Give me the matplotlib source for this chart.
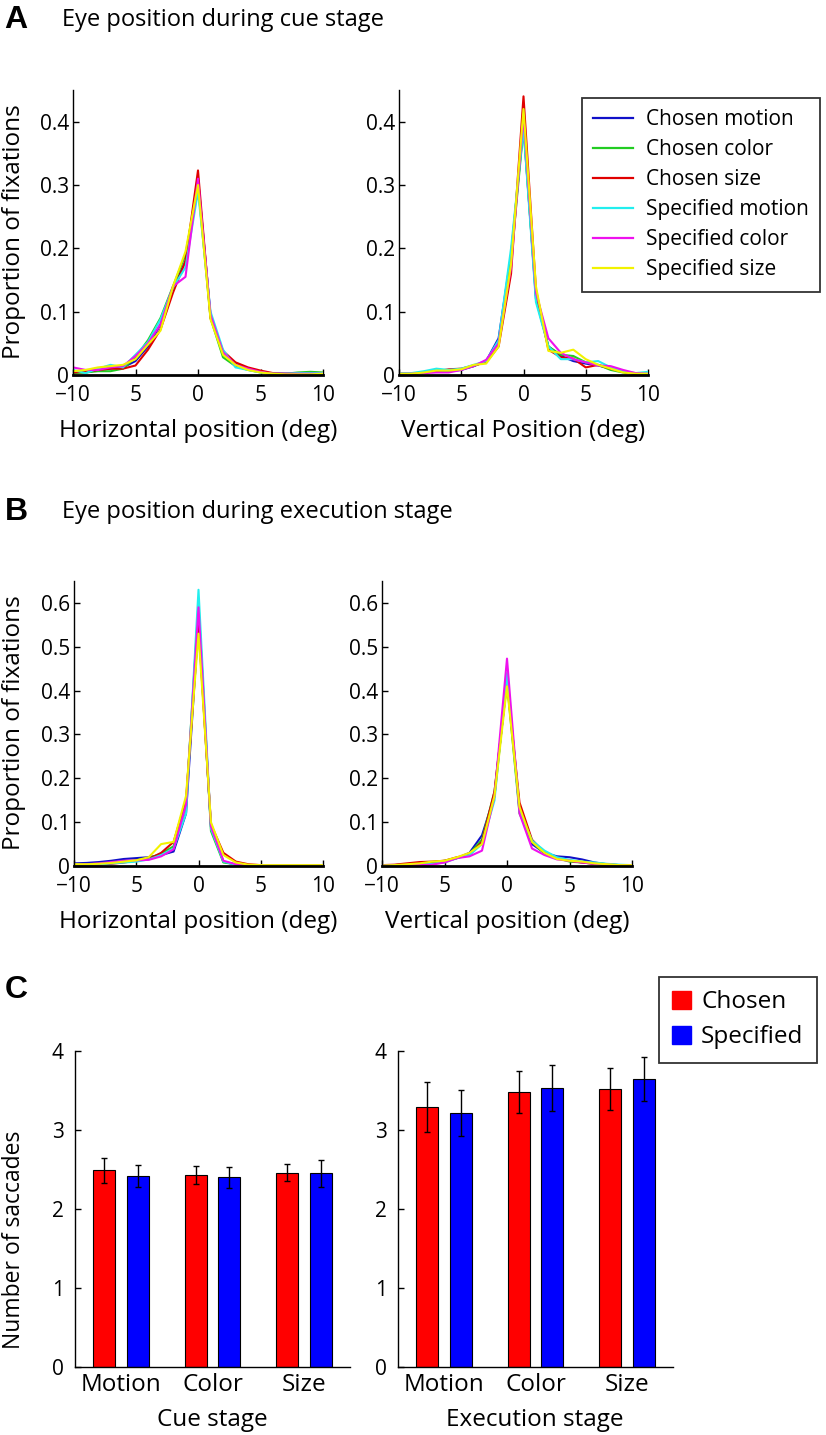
#!/usr/bin/env python3
"""Eye position distributions (cue / execution stage) and saccade counts."""

import matplotlib
matplotlib.use("Agg")
import matplotlib.pyplot as plt
import numpy as np
from matplotlib.patches import Patch
from matplotlib.lines import Line2D

# ---- data -----------------------------------------------------------------
positions = list(range(-10, 11))
xtick_vals = [-10, -5, 0, 5, 10]
xtick_text = ["\u221210", "5", "0", "5", "10"]

series_names = ["Chosen motion", "Chosen color", "Chosen size",
                "Specified motion", "Specified color", "Specified size"]
series_colors = ["#1010c8", "#22cc22", "#e00000", "#22eeee", "#ee11ee", "#f2f200"]

# cue stage, horizontal
cue_h_cm = [0.006, 0.004, 0.008, 0.010, 0.012, 0.022, 0.045, 0.080, 0.135, 0.180, 0.310, 0.095, 0.035, 0.018, 0.010, 0.005, 0.002, 0.002, 0.002, 0.003, 0.003]
cue_h_cc = [0.003, 0.004, 0.006, 0.006, 0.010, 0.028, 0.055, 0.090, 0.140, 0.190, 0.300, 0.090, 0.028, 0.014, 0.008, 0.004, 0.002, 0.002, 0.004, 0.005, 0.004]
cue_h_cs = [0.004, 0.005, 0.008, 0.010, 0.010, 0.015, 0.040, 0.072, 0.130, 0.180, 0.323, 0.090, 0.038, 0.020, 0.012, 0.007, 0.003, 0.002, 0.002, 0.002, 0.002]
cue_h_sm = [0.008, 0.003, 0.010, 0.016, 0.012, 0.032, 0.052, 0.088, 0.138, 0.170, 0.290, 0.100, 0.040, 0.012, 0.008, 0.004, 0.002, 0.002, 0.003, 0.003, 0.003]
cue_h_sc = [0.012, 0.008, 0.008, 0.012, 0.014, 0.030, 0.050, 0.080, 0.140, 0.155, 0.310, 0.095, 0.036, 0.016, 0.010, 0.005, 0.002, 0.002, 0.002, 0.002, 0.002]
cue_h_ss = [0.006, 0.008, 0.012, 0.014, 0.016, 0.025, 0.048, 0.070, 0.140, 0.195, 0.300, 0.088, 0.032, 0.016, 0.008, 0.004, 0.002, 0.001, 0.001, 0.001, 0.002]

# cue stage, vertical
cue_v_cm = [0.003, 0.002, 0.004, 0.006, 0.006, 0.008, 0.014, 0.022, 0.058, 0.190, 0.395, 0.120, 0.045, 0.030, 0.022, 0.018, 0.015, 0.010, 0.005, 0.002, 0.003]
cue_v_cc = [0.002, 0.002, 0.004, 0.007, 0.007, 0.009, 0.014, 0.022, 0.050, 0.180, 0.390, 0.125, 0.045, 0.032, 0.030, 0.020, 0.016, 0.008, 0.004, 0.002, 0.002]
cue_v_cs = [0.003, 0.002, 0.004, 0.006, 0.009, 0.010, 0.015, 0.020, 0.045, 0.160, 0.440, 0.135, 0.040, 0.028, 0.026, 0.012, 0.016, 0.010, 0.005, 0.002, 0.002]
cue_v_sm = [0.003, 0.003, 0.006, 0.010, 0.008, 0.010, 0.016, 0.022, 0.055, 0.200, 0.390, 0.115, 0.045, 0.025, 0.025, 0.020, 0.022, 0.012, 0.006, 0.003, 0.005]
cue_v_sc = [0.002, 0.002, 0.003, 0.004, 0.004, 0.008, 0.014, 0.024, 0.050, 0.170, 0.410, 0.130, 0.058, 0.035, 0.025, 0.020, 0.015, 0.014, 0.008, 0.003, 0.002]
cue_v_ss = [0.002, 0.002, 0.004, 0.007, 0.007, 0.009, 0.016, 0.018, 0.045, 0.175, 0.420, 0.140, 0.038, 0.035, 0.040, 0.025, 0.016, 0.010, 0.004, 0.002, 0.002]

# execution stage, horizontal
exe_h_cm = [0.006, 0.007, 0.009, 0.012, 0.016, 0.018, 0.020, 0.025, 0.033, 0.120, 0.560, 0.090, 0.010, 0.003, 0.002, 0.001, 0.001, 0.001, 0.001, 0.001, 0.001]
exe_h_cc = [0.004, 0.004, 0.005, 0.007, 0.010, 0.013, 0.018, 0.028, 0.045, 0.140, 0.600, 0.080, 0.008, 0.004, 0.002, 0.001, 0.001, 0.001, 0.002, 0.001, 0.001]
exe_h_cs = [0.002, 0.002, 0.003, 0.005, 0.008, 0.012, 0.016, 0.030, 0.055, 0.150, 0.550, 0.095, 0.030, 0.010, 0.004, 0.002, 0.002, 0.002, 0.002, 0.002, 0.002]
exe_h_sm = [0.003, 0.003, 0.004, 0.006, 0.008, 0.010, 0.015, 0.025, 0.040, 0.120, 0.630, 0.085, 0.010, 0.003, 0.002, 0.001, 0.001, 0.001, 0.001, 0.001, 0.001]
exe_h_sc = [0.003, 0.004, 0.006, 0.009, 0.012, 0.013, 0.014, 0.022, 0.038, 0.140, 0.590, 0.090, 0.012, 0.004, 0.002, 0.001, 0.001, 0.001, 0.001, 0.001, 0.001]
exe_h_ss = [0.004, 0.004, 0.005, 0.007, 0.010, 0.013, 0.020, 0.050, 0.055, 0.160, 0.530, 0.100, 0.025, 0.008, 0.003, 0.002, 0.002, 0.002, 0.002, 0.002, 0.002]

# execution stage, vertical
exe_v_cm = [0.002, 0.002, 0.004, 0.006, 0.008, 0.010, 0.018, 0.030, 0.070, 0.160, 0.430, 0.130, 0.050, 0.030, 0.022, 0.020, 0.015, 0.008, 0.004, 0.002, 0.001]
exe_v_cc = [0.001, 0.002, 0.004, 0.005, 0.008, 0.012, 0.018, 0.028, 0.060, 0.170, 0.420, 0.120, 0.055, 0.028, 0.018, 0.010, 0.008, 0.005, 0.003, 0.002, 0.002]
exe_v_cs = [0.002, 0.003, 0.006, 0.009, 0.010, 0.012, 0.020, 0.025, 0.055, 0.170, 0.420, 0.145, 0.060, 0.030, 0.018, 0.012, 0.008, 0.005, 0.003, 0.002, 0.002]
exe_v_sm = [0.001, 0.001, 0.002, 0.003, 0.005, 0.008, 0.018, 0.025, 0.050, 0.150, 0.440, 0.125, 0.058, 0.035, 0.020, 0.014, 0.010, 0.008, 0.005, 0.003, 0.002]
exe_v_sc = [0.001, 0.001, 0.002, 0.002, 0.003, 0.008, 0.018, 0.022, 0.035, 0.160, 0.473, 0.120, 0.040, 0.025, 0.015, 0.012, 0.008, 0.005, 0.003, 0.002, 0.002]
exe_v_ss = [0.001, 0.002, 0.004, 0.006, 0.010, 0.012, 0.020, 0.030, 0.050, 0.160, 0.410, 0.135, 0.055, 0.030, 0.016, 0.012, 0.010, 0.006, 0.004, 0.002, 0.002]

# saccade counts
features = ["Motion", "Color", "Size"]
cue_chosen = [2.49, 2.43, 2.46]
cue_chosen_err = [0.16, 0.11, 0.11]
cue_specified = [2.42, 2.40, 2.45]
cue_specified_err = [0.14, 0.13, 0.17]
exe_chosen = [3.29, 3.48, 3.52]
exe_chosen_err = [0.32, 0.27, 0.27]
exe_specified = [3.22, 3.53, 3.65]
exe_specified_err = [0.29, 0.29, 0.28]

# ---- figure ---------------------------------------------------------------
W, H = 826, 1435
plt.rcParams["font.family"] = ["Open Sans", "DejaVu Sans"]
fig = plt.figure(figsize=(W / 100, H / 100), dpi=100)

TICK_FS = 15
LABEL_FS = 17.5


def px_axes(l, r, t, b):
    return fig.add_axes([l / W, 1 - b / H, (r - l) / W, (b - t) / H])


def ftext(x, y, s, **kw):
    fig.text(x / W, 1 - y / H, s, **kw)


def style(ax, bottom_lw=1.0):
    for side in ("top", "right"):
        ax.spines[side].set_visible(False)
    ax.spines["left"].set_linewidth(1.0)
    ax.spines["bottom"].set_linewidth(bottom_lw)
    ax.tick_params(direction="in", length=4, width=1, labelsize=TICK_FS, pad=3)


def line_panel(ax, curves, ymax, yticks):
    for vals, c in zip(curves, series_colors):
        ax.plot(positions, vals, color=c, lw=1.5, solid_joinstyle="round")
    ax.set_xlim(-10, 10)
    ax.set_ylim(0, ymax)
    ax.set_xticks(xtick_vals)
    ax.set_xticklabels(xtick_text)
    ax.set_yticks(yticks)
    ax.set_yticklabels(["0"] + [f"{v:.1f}" for v in yticks[1:]])
    style(ax, bottom_lw=2.0)
    ax.tick_params(axis="x", pad=7.5)


yt_a = [0, 0.1, 0.2, 0.3, 0.4]
yt_b = [0, 0.1, 0.2, 0.3, 0.4, 0.5, 0.6]

ax1 = px_axes(73, 323, 90, 375)
line_panel(ax1, [cue_h_cm, cue_h_cc, cue_h_cs, cue_h_sm, cue_h_sc, cue_h_ss], 0.45, yt_a)
ax2 = px_axes(399, 648, 90, 375)
line_panel(ax2, [cue_v_cm, cue_v_cc, cue_v_cs, cue_v_sm, cue_v_sc, cue_v_ss], 0.45, yt_a)
ax3 = px_axes(74, 323, 581, 866)
line_panel(ax3, [exe_h_cm, exe_h_cc, exe_h_cs, exe_h_sm, exe_h_sc, exe_h_ss], 0.65, yt_b)
ax4 = px_axes(382, 632, 581, 866)
line_panel(ax4, [exe_v_cm, exe_v_cc, exe_v_cs, exe_v_sm, exe_v_sc, exe_v_ss], 0.65, yt_b)

handles = [Line2D([], [], color=c, lw=1.6) for c in series_colors]
leg = fig.legend(handles, series_names, loc="upper left",
                 bbox_to_anchor=(582 / W, 1 - 98 / H), fontsize=15,
                 frameon=True, fancybox=False, handlelength=1.9,
                 handletextpad=0.62, labelspacing=0.43, borderpad=0.55,
                 borderaxespad=0)
leg.get_frame().set_edgecolor("black")
leg.get_frame().set_linewidth(1.3)

# bar panels
xb = np.arange(1, 4)
off, bw = 0.185, 0.24


def bar_panel(ax, ch, ch_e, sp, sp_e):
    ek = dict(ecolor="black", elinewidth=1.0, capsize=2, capthick=1.0)
    ax.bar(xb - off, ch, bw, yerr=ch_e, color="#ff0000", edgecolor="black",
           linewidth=0.8, error_kw=ek)
    ax.bar(xb + off, sp, bw, yerr=sp_e, color="#0000ff", edgecolor="black",
           linewidth=0.8, error_kw=ek)
    ax.set_xlim(0.5, 3.5)
    ax.set_ylim(0, 4)
    ax.set_yticks([0, 1, 2, 3, 4])
    ax.set_xticks(xb)
    ax.set_xticklabels(features)
    style(ax)
    ax.tick_params(axis="x", length=0, pad=4.5, labelsize=LABEL_FS)
    ax.tick_params(axis="y", pad=8)


ax5 = px_axes(75, 350, 1051, 1367)
bar_panel(ax5, cue_chosen, cue_chosen_err, cue_specified, cue_specified_err)
ax6 = px_axes(398, 673, 1051, 1367)
bar_panel(ax6, exe_chosen, exe_chosen_err, exe_specified, exe_specified_err)

leg2 = fig.legend([Patch(color="#ff0000"), Patch(color="#0000ff")],
                  ["Chosen", "Specified"], loc="upper left",
                  bbox_to_anchor=(659 / W, 1 - 977 / H), fontsize=LABEL_FS,
                  frameon=True, fancybox=False, handlelength=0.78,
                  handleheight=0.78, handletextpad=0.4, labelspacing=0.45,
                  borderpad=0.55, borderaxespad=0)
leg2.get_frame().set_edgecolor("black")
leg2.get_frame().set_linewidth(1.3)

# labels
lab = dict(fontsize=LABEL_FS, ha="center", va="center")
letter = dict(fontsize=23, fontweight="bold", ha="center", va="center",
              family=["Liberation Sans", "DejaVu Sans"])
ftext(16, 20, "A", **letter)
ftext(62, 20, "Eye position during cue stage", fontsize=17, va="center")
ftext(16, 512, "B", **letter)
ftext(62, 512, "Eye position during execution stage", fontsize=17, va="center")
ftext(16, 990, "C", **letter)

ftext(198, 431, "Horizontal position (deg)", **lab)
ftext(523, 431, "Vertical Position (deg)", **lab)
ftext(198, 922, "Horizontal position (deg)", **lab)
ftext(507, 922, "Vertical position (deg)", **lab)
ftext(212, 1420, "Cue stage", **lab)
ftext(535, 1420, "Execution stage", **lab)
ftext(14, 232, "Proportion of fixations", rotation=90, **lab)
ftext(14, 723, "Proportion of fixations", rotation=90, **lab)
ftext(14, 1240, "Number of saccades", rotation=90, fontsize=16.5,
      ha="center", va="center")

fig.savefig("out.png", dpi=100)
